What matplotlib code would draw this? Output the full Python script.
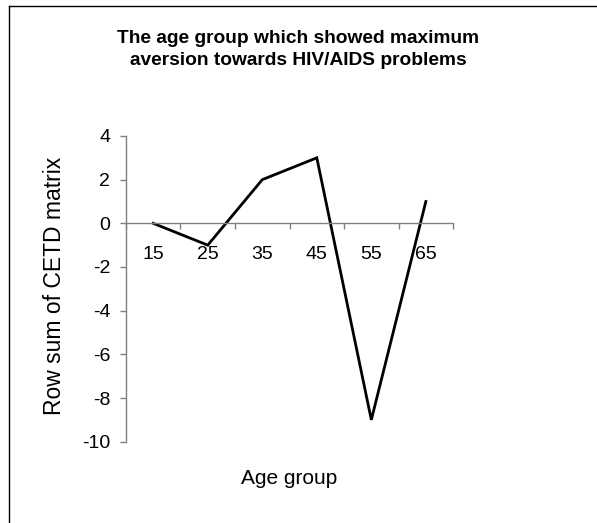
import matplotlib
matplotlib.use("Agg")
import matplotlib.pyplot as plt
from matplotlib.lines import Line2D
import numpy as np

# data
age_groups = ['15', '25', '35', '45', '55', '65']
row_sums = [0, -1, 2, 3, -9, 1]
y_ticks = [-10, -8, -6, -4, -2, 0, 2, 4]

plt.rcParams['font.family'] = ['Liberation Sans', 'DejaVu Sans']
plt.rcParams['axes.unicode_minus'] = False

fig = plt.figure(figsize=(5.97, 5.23), dpi=100)
ax = fig.add_axes([0.211, 0.1555, 0.548, 0.5845])

x = np.arange(len(age_groups))
ax.plot(x, row_sums, color='black', lw=2.0, solid_joinstyle='miter')

ax.set_xlim(-0.5, len(age_groups) - 0.5)
ax.set_ylim(-10, 4)

# axes styling (Excel-like)
for side in ['top', 'right']:
    ax.spines[side].set_visible(False)
ax.spines['bottom'].set_position(('data', 0))
for side in ['left', 'bottom']:
    ax.spines[side].set_color('#808080')
    ax.spines[side].set_linewidth(1.0)

ax.set_yticks(y_ticks)
ax.tick_params(axis='y', direction='out', length=4.3, width=1.0, color='#808080',
               labelsize=14, pad=7)

# category boundaries as ticks, labels at category centres
ax.set_xticks(np.arange(-0.5, len(age_groups), 1.0))
ax.set_xticklabels([])
ax.set_xticks(x, minor=True)
ax.set_xticklabels(age_groups, minor=True)
ax.tick_params(axis='x', which='major', direction='out', length=4.3, width=1.0, color='#808080')
ax.tick_params(axis='x', which='minor', length=0, labelsize=14, pad=16)

ax.set_ylabel('Row sum of CETD matrix', fontsize=16.5, va='center')
ax.yaxis.set_label_coords(-0.217, 0.51)
ax.set_xlabel('Age group', fontsize=15, va='baseline')
ax.xaxis.set_label_coords(0.5, -0.139)

fig.text(0.5, 1 - 30 / 523, 'The age group which showed maximum\naversion towards HIV/AIDS problems',
         ha='center', va='top', fontsize=13.8, fontweight='bold', linespacing=1.36)

# chart area border (cut off at right and bottom in the original)
fig.add_artist(Line2D([9 / 597, 9 / 597], [0, 1 - 6 / 523], color='black', lw=1.0,
                      transform=fig.transFigure))
fig.add_artist(Line2D([9 / 597, 1], [1 - 6 / 523, 1 - 6 / 523], color='black', lw=1.0,
                      transform=fig.transFigure))

fig.savefig('out.png', dpi=100)
